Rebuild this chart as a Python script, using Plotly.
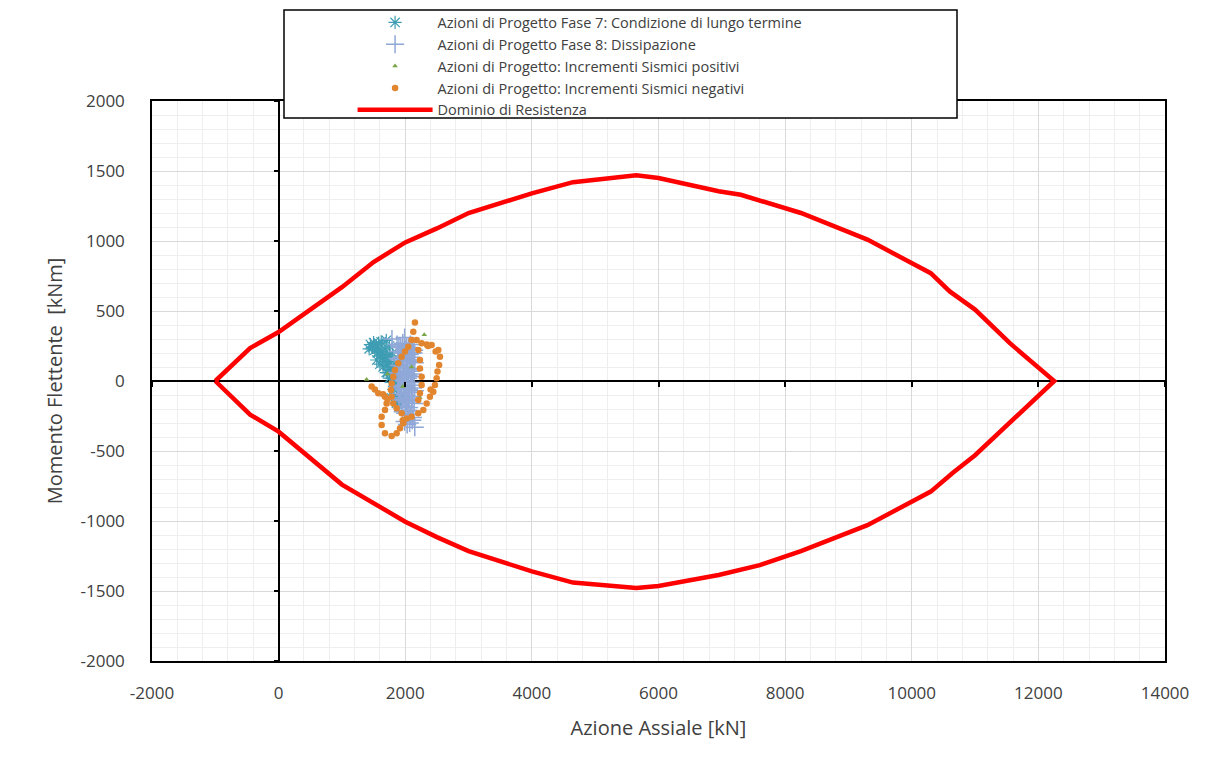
import plotly.graph_objects as go

# ---------------- data ----------------
# Resistance domain (upper branch, left -> right) [kN, kNm]
dom_up_N = [-1000, -450, 0, 1000, 1500, 2000, 2500, 3000, 4000, 4650, 5650, 6000, 6950, 7300, 8250, 9300, 10300, 10600, 11000, 11550, 12250]
dom_up_M = [0, 235, 350, 670, 850, 990, 1090, 1200, 1340, 1420, 1470, 1450, 1355, 1330, 1200, 1010, 770, 640, 510, 270, 0]
# lower branch, left -> right
dom_lo_N = [-1000, -450, 0, 1000, 1500, 2000, 2500, 3000, 4000, 4650, 5650, 6000, 6950, 7600, 8250, 9300, 10300, 10650, 11000, 11700, 12250]
dom_lo_M = [0, -240, -362, -740, -870, -1005, -1115, -1215, -1360, -1440, -1478, -1464, -1386, -1315, -1215, -1030, -790, -655, -530, -230, 0]

# Fase 7: long-term condition (asterisks)
f7_N = [1430, 1450, 1480, 1500, 1520, 1540, 1560, 1580, 1600, 1620, 1640, 1660, 1680, 1700, 1720, 1740,
        1760, 1780, 1800, 1820, 1840, 1860, 1850, 1870, 1880, 1890, 1860, 1900, 1580, 1620, 1700, 1750,
        1800, 1650, 1700, 1750, 1800, 1820, 1780, 1550, 1600, 1720, 1680, 1760, 1830, 1880]
f7_M = [230, 260, 240, 275, 220, 250, 200, 230, 180, 210, 160, 190, 140, 170, 110, 140,
        80, 100, 50, 70, 20, 30, -20, -50, -90, -130, -160, -180, 270, 280, 290, 250,
        200, 100, 60, 20, -10, -60, -120, 150, 120, 60, 230, 180, 120, -110]

# Fase 8: dissipation (crosses)
f8_N = [1870, 1900, 1930, 1960, 1990, 2020, 2050, 2080, 2110, 2140,
        1880, 1910, 1940, 1970, 2000, 2030, 2060, 2090, 2120, 2150,
        1870, 1900, 1930, 1960, 1990, 2020, 2050, 2080, 2110, 2140,
        1880, 1910, 1940, 1970, 2000, 2030, 2060, 2090, 2120, 2150,
        1900, 1940, 1980, 2020, 2060, 2100, 2140, 1960, 2000, 2040,
        2080, 2120, 1990, 2030, 2070, 2110, 1790, 1990, 2100, 2150,
        1890, 1950, 2010, 2070, 2130, 1900, 1960, 2020, 2080, 2140,
        1920, 1980, 2040, 2100, 1930, 1990, 2050, 2110, 2000, 2060]
f8_M = [260, 250, 240, 270, 230, 250, 240, 260, 230, 220,
        160, 150, 170, 140, 160, 150, 140, 170, 150, 130,
        60, 50, 70, 40, 60, 50, 40, 70, 50, 30,
        -40, -50, -30, -60, -40, -50, -60, -30, -50, -70,
        -130, -140, -120, -150, -130, -140, -160, -220, -230, -210,
        -240, -260, -290, -310, -300, -280, 300, 310, 200, -330,
        210, 200, 220, 190, 200, 110, 100, 120, 90, 80,
        10, 0, 20, -10, -90, -100, -80, -110, -180, -190]

# Seismic increments, positive (triangles)
sp_N = [1390, 2300, 2100, 1960, 2230, 1720]
sp_M = [10, 330, 100, -40, -120, 50]

# Seismic increments, negative (circles)
sn_N = [2153, 2127, 2180, 2259, 2417, 2522, 2548, 2535, 2509, 2496, 2469, 2443, 2390, 2338, 2285, 2206, 2101, 2022,
        2101, 2048, 1996, 1943, 1890, 1838, 1811, 1785, 1774, 1785, 1811, 1864, 1943,
        2206, 2232, 2232, 2259, 2259, 2232, 2206,
        1469, 1574, 1680, 1706, 1680, 1627, 1627, 1680, 1785, 1864, 1917, 1969,
        2340, 2360, 2480, 2400, 1520, 1650, 1720, 1960]
sn_M = [417, 352, 293, 269, 257, 221, 174, 114, 67, 19, -29, -76, -112, -160, -207, -231, -255, -267,
        293, 245, 210, 174, 126, 79, 31, -17, -64, -112, -160, -195, -231,
        221, 150, 90, 31, -29, -88, -136,
        -40, -88, -112, -160, -207, -255, -314, -374, -393, -374, -338, -302,
        260, 250, 210, -60, -60, -95, -130, -280]

x_ticks = [-2000, 0, 2000, 4000, 6000, 8000, 10000, 12000, 14000]
x_tick_labels = ["-2000", "0", "2000", "4000", "6000", "8000", "10000", "12000", "14000"]
y_ticks = [-2000, -1500, -1000, -500, 0, 500, 1000, 1500, 2000]
y_tick_labels = ["-2000", "-1500", "-1000", "-500", "0", "500", "1000", "1500", "2000"]

# ---------------- figure ----------------
fig = go.Figure()

fig.add_trace(go.Scatter(
    x=f7_N, y=f7_M, mode="markers",
    name="Azioni di Progetto Fase 7: Condizione di lungo termine",
    marker=dict(symbol="asterisk-open", size=11, color="#3E9DB3",
                line=dict(color="#3E9DB3", width=1.2)),
))
fig.add_trace(go.Scatter(
    x=f8_N, y=f8_M, mode="markers",
    name="Azioni di Progetto Fase 8: Dissipazione",
    marker=dict(symbol="cross-thin-open", size=13, color="#8FA8D8",
                line=dict(color="#8FA8D8", width=1.5)),
))
fig.add_trace(go.Scatter(
    x=sp_N, y=sp_M, mode="markers",
    name="Azioni di Progetto: Incrementi Sismici positivi",
    marker=dict(symbol="triangle-up", size=5, color="#7AA648"),
))
fig.add_trace(go.Scatter(
    x=sn_N, y=sn_M, mode="markers",
    name="Azioni di Progetto: Incrementi Sismici negativi",
    marker=dict(symbol="circle", size=6.5, color="#E2852F"),
))
fig.add_trace(go.Scatter(
    x=dom_up_N + dom_lo_N[::-1], y=dom_up_M + dom_lo_M[::-1], mode="lines",
    name="Dominio di Resistenza",
    line=dict(color="#FF0000", width=4.5),
))
# helper trace for the crossing axes (tick marks on the zero lines)
fig.add_trace(go.Scatter(x=[], y=[], xaxis="x2", yaxis="y2", showlegend=False, hoverinfo="skip"))

tick_font = dict(family="Open Sans, Lato, sans-serif", size=17, color="#404040")
title_font = dict(family="Open Sans, Lato, sans-serif", size=20, color="#404040")

fig.update_layout(
    width=1220, height=757,
    margin=dict(l=152, r=55, t=101, b=96, autoexpand=False),
    paper_bgcolor="white", plot_bgcolor="white",
    showlegend=True,
    legend=dict(
        x=0.198, y=1.1688, xanchor="left", yanchor="top",
        bgcolor="rgba(0,0,0,0)", borderwidth=0,
        font=dict(family="Open Sans, Lato, sans-serif", size=14.5, color="#404040"),
        itemwidth=75, tracegroupgap=0,
    ),
    xaxis=dict(
        range=[-2000, 14000], tickvals=x_ticks, ticktext=x_tick_labels, ticks="",
        showline=True, mirror=True, linecolor="black", linewidth=1.5,
        showgrid=True, gridcolor="#D9D9D9", gridwidth=1,
        minor=dict(dtick=400, showgrid=True, gridcolor="#EEEEEE", gridwidth=1),
        zeroline=True, zerolinecolor="black", zerolinewidth=1.5,
        tickfont=tick_font, ticklabelstandoff=16,
        title=dict(text="Azione Assiale [kN]", font=title_font, standoff=18),
    ),
    yaxis=dict(
        range=[-2000, 2000], tickvals=y_ticks, ticktext=y_tick_labels, ticks="",
        showline=True, mirror=True, linecolor="black", linewidth=1.5,
        showgrid=True, gridcolor="#D9D9D9", gridwidth=1,
        minor=dict(dtick=100, showgrid=True, gridcolor="#EEEEEE", gridwidth=1),
        zeroline=True, zerolinecolor="black", zerolinewidth=1.5,
        tickfont=tick_font, ticklabelstandoff=22,
        title=dict(text="Momento Flettente  [kNm]", font=title_font, standoff=12),
    ),
    xaxis2=dict(
        overlaying="x", matches="x", anchor="free", position=0.5, side="bottom",
        tickvals=x_ticks, ticks="outside", ticklen=5, tickcolor="black", tickwidth=1.5,
        showticklabels=False, showline=False, showgrid=False, zeroline=False,
    ),
    yaxis2=dict(
        overlaying="y", matches="y", anchor="free", position=0.125, side="left",
        tickvals=y_ticks, ticks="outside", ticklen=5, tickcolor="black", tickwidth=1.5,
        showticklabels=False, showline=False, showgrid=False, zeroline=False,
    ),
    shapes=[
        dict(type="rect", xref="paper", yref="paper",
             x0=(284 - 152) / 1013, x1=(957 - 152) / 1013,
             y0=(661 - 118) / 560, y1=(661 - 10) / 560,
             fillcolor="white", line=dict(color="black", width=1.5), layer="above"),
    ],
)

fig.write_html("out.html")
